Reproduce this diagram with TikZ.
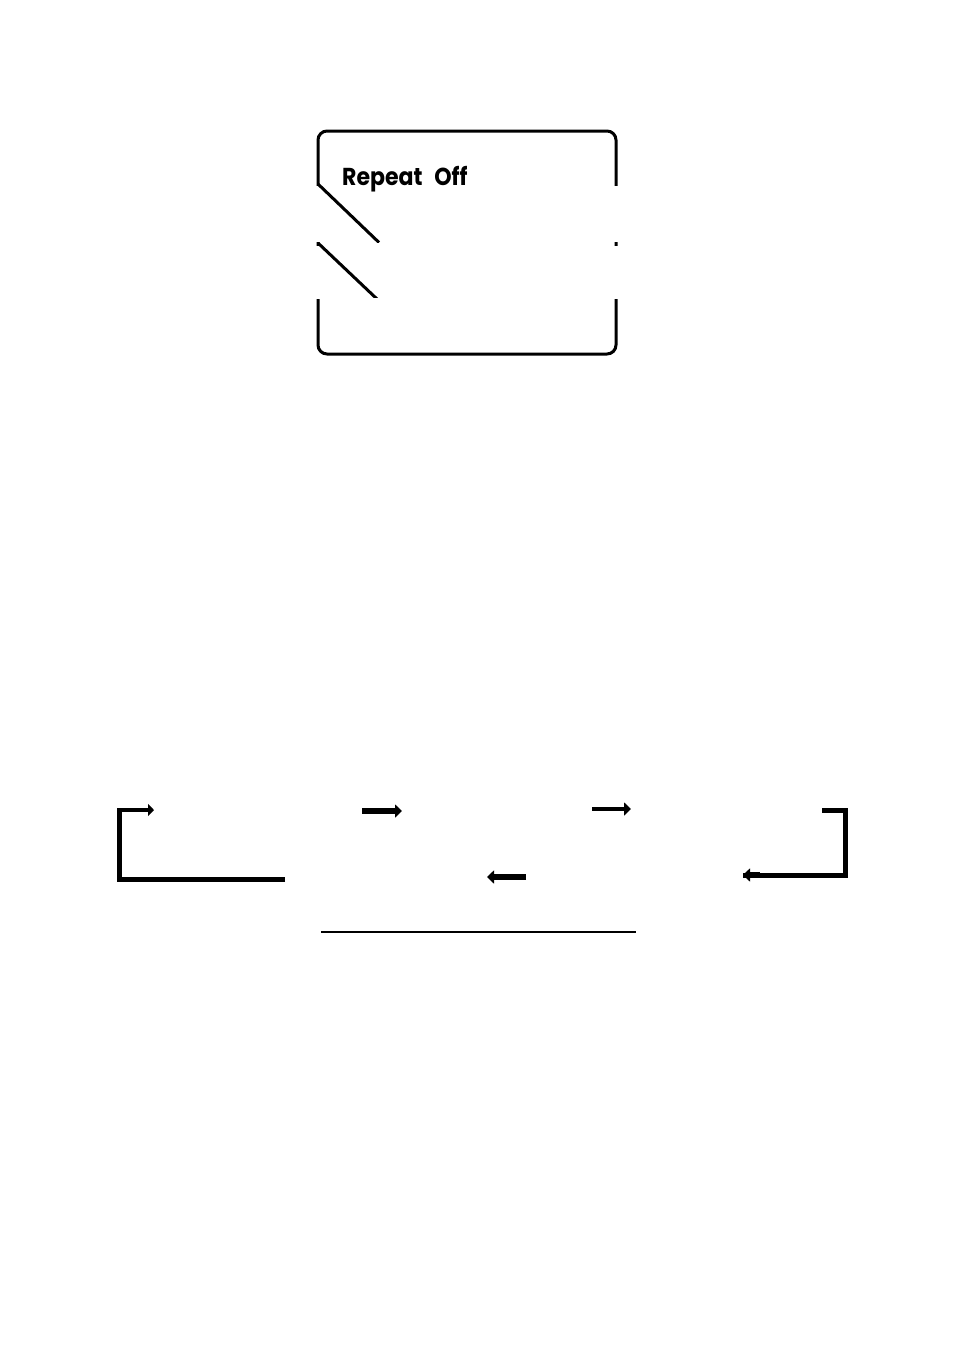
\documentclass[tikz,border=0pt]{standalone}
\usepackage{fontspec}
\newfontfamily\lcdfont{Poppins}
\usetikzlibrary{arrows.meta}
\begin{document}
\begin{tikzpicture}[x=1pt,y=-1pt,
  frame/.style={line width=3pt,rounded corners=9pt},
  edge/.style={line width=3pt},
  mask/.style={fill=white,draw=none},
  bracket/.style={line width=5pt},
  thinarrow/.style={line width=4pt,-{Triangle[length=6pt,width=12pt]}},
  fatarrow/.style={line width=5.5pt,-{Triangle[length=7pt,width=13pt]}},
  rule/.style={line width=2pt}]
\useasboundingbox (0,0) rectangle (956,1355);
% display frame
\draw[frame] (318,131) rectangle (616,354);
\fill[mask] (310,186) rectangle (625,242);
\fill[mask] (310,245.5) rectangle (625,298.5);
\begin{scope}
  \clip (300,183) rectangle (400,242);
  \draw[edge] (318,184) -- (379,242.5);
\end{scope}
\begin{scope}
  \clip (300,242.5) rectangle (400,297.5);
  \draw[edge] (318,243) -- (377,299);
\end{scope}
\node[anchor=base west,inner sep=0pt,xscale=0.9,font=\lcdfont\fontsize{24.5}{28}\selectfont\bfseries] (rep) at (342,185) {Repeat\hspace{13pt}Off};
% cycle arrows
\coordinate (l1) at (285,879.5);
\coordinate (l2) at (119.5,879.5);
\coordinate (l3) at (119.5,810);
\coordinate (l4) at (154,810);
\draw[bracket,line cap=butt] (l1) -- (l2) -- (l3) -- (120,810);
\draw[thinarrow] (117.5,810) -- (l4);
\coordinate (a1s) at (362,811);
\coordinate (a1e) at (402,811);
\draw[fatarrow] (a1s) -- (a1e);
\coordinate (a2s) at (592,809);
\coordinate (a2e) at (631,809);
\draw[fatarrow,line width=4.5pt] (a2s) -- (a2e);
\coordinate (r1) at (822,810);
\coordinate (r2) at (845,810);
\coordinate (r3) at (845,875);
\coordinate (r4) at (743,875);
\draw[bracket] (r1) -- (r2) -- (r3) -- (r4);
\draw[fatarrow] (760,875) -- (r4);
\coordinate (a3s) at (526,877);
\coordinate (a3e) at (487,877);
\draw[fatarrow] (a3s) -- (a3e);
% underline
\coordinate (u1) at (321,931.5);
\coordinate (u2) at (636,931.5);
\draw[rule] (u1) -- (u2);
\end{tikzpicture}
\end{document}
